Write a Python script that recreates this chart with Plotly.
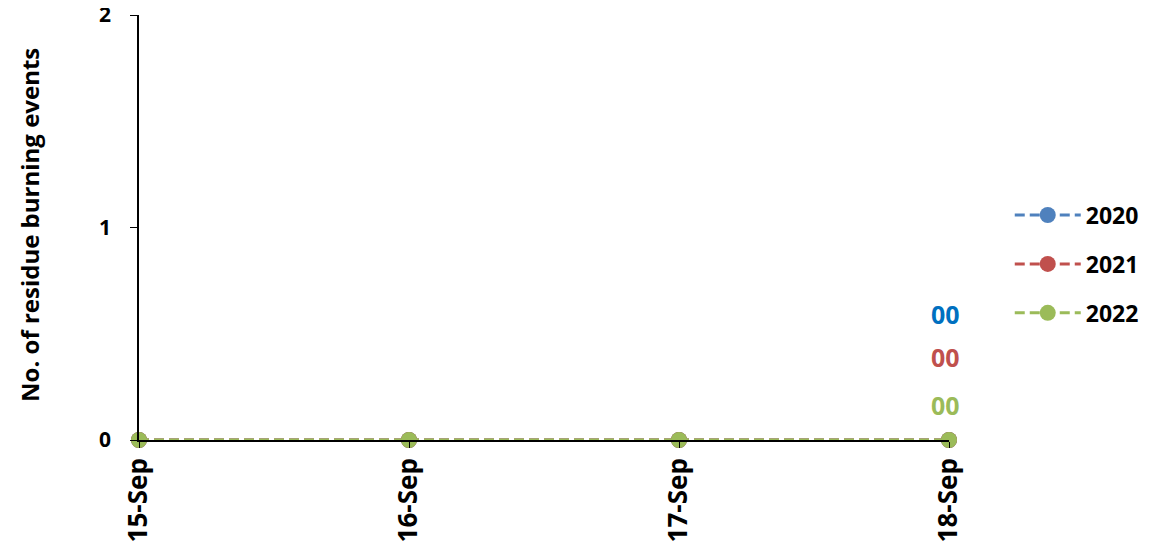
import plotly.graph_objects as go

dates = ["15-Sep", "16-Sep", "17-Sep", "18-Sep"]
series_names = ["2020", "2021", "2022"]
vals_2020 = [0, 0, 0, 0]
vals_2021 = [0, 0, 0, 0]
vals_2022 = [0, 0, 0, 0]
y_ticks = [0, 1, 2]

line_colors = ["#4F81BD", "#C0504D", "#9BBB59"]
label_colors = ["#0070C0", "#C0504D", "#9BBB59"]
label_shifts = [126, 83, 35]
FONT = "'Open Sans', Calibri, sans-serif"

fig = go.Figure()
all_vals = [vals_2020, vals_2021, vals_2022]
for i, (name, vals) in enumerate(zip(series_names, all_vals)):
    fig.add_trace(go.Scatter(
        x=list(range(len(dates))), y=vals, name=f"<b>{name}</b>", mode="lines+markers",
        line=dict(color=line_colors[i], width=3, dash="10px,5px"),
        marker=dict(color=line_colors[i], size=16),
        cliponaxis=False, legendgroup=name,
    ))
    fig.add_annotation(
        x=len(dates) - 1, y=vals[-1], text=f"<b>{vals[-1]:02d}</b>",
        showarrow=False, yshift=label_shifts[i], xshift=-4,
        font=dict(family=FONT, size=25, color=label_colors[i]),
    )

fig.add_annotation(
    xref="paper", yref="paper", x=-0.1346, y=0.506,
    xanchor="center", yanchor="middle",
    text="<b>No. of residue burning events</b>", textangle=-90,
    showarrow=False, font=dict(family=FONT, size=24, color="black"),
)

fig.update_layout(
    width=1145, height=546,
    margin=dict(l=131, r=204, t=7, b=114, autoexpand=False),
    paper_bgcolor="white", plot_bgcolor="white",
    font=dict(family=FONT, size=22, color="black"),
    showlegend=True,
    legend=dict(x=1.075, xanchor="left", y=0.414, yanchor="middle",
                font=dict(family=FONT, size=23, color="black"),
                tracegroupgap=16, traceorder="grouped", itemwidth=66),
    xaxis=dict(
        tickmode="array", tickvals=list(range(len(dates))),
        ticktext=[f"<b>{d}</b>" for d in dates],
        range=[0, len(dates) - 1], tickangle=-90,
        showline=True, linecolor="black", linewidth=1.5,
        ticks="outside", ticklen=6, tickcolor="black",
        showgrid=False, zeroline=False, automargin=False,
        ticklabeloverflow="allow",
        tickfont=dict(family=FONT, size=26, color="black"),
    ),
    yaxis=dict(
        range=[0, 2], tickvals=y_ticks, ticktext=[f"<b>{t}</b>" for t in y_ticks],
        showline=True, linecolor="black", linewidth=1.5,
        ticks="outside", ticklen=7, tickcolor="black",
        showgrid=False, zeroline=False, automargin=False,
        ticklabeloverflow="allow",
        tickfont=dict(family=FONT, size=21, color="black"),
        ticklabelstandoff=15,
    ),
)

fig.write_html("out.html")
